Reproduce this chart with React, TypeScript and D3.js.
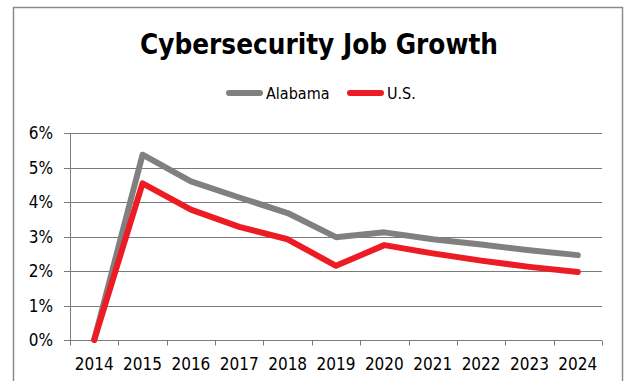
import React from "react";
import * as d3 from "d3";

const years = ["2014","2015","2016","2017","2018","2019","2020","2021","2022","2023","2024"];
const alabama = [0, 5.37, 4.6, 4.13, 3.68, 2.98, 3.12, 2.92, 2.77, 2.6, 2.46];
const us = [0, 4.54, 3.78, 3.28, 2.92, 2.15, 2.75, 2.51, 2.3, 2.12, 1.97];
const yTicks = [0, 1, 2, 3, 4, 5, 6];
const seriesNames = ["Alabama", "U.S."];
const colors = ["#808080", "#ED1C24"];

const W = 625, H = 381;
const font = "'DejaVu Sans Condensed', 'DejaVu Sans', Tahoma, sans-serif";

export default function App() {
  const x = d3.scaleBand().domain(years).range([70, 602]).padding(0);
  const y = d3.scaleLinear().domain([0, 6]).range([340, 133]);
  const cx = (d: string) => (x(d) as number) + x.bandwidth() / 2;
  const line = d3.line<number>().x((_, i) => cx(years[i])).y((v) => y(v));
  const series = [alabama, us];
  const px = (v: number) => Math.round(v) + 0.5;
  const legendX = [226, 347];
  return (
    <svg width={W} height={H} style={{ position: "absolute", left: 0, top: 0, background: "#fff" }}>
      <rect x={13.5} y={7.5} width={609} height={420} fill="#fff" stroke="#8c8c8c" strokeWidth={1.5} />
      <text x={319} y={54} textAnchor="middle" fontFamily={font} fontWeight="bold" fontSize={28} textLength={358} lengthAdjust="spacingAndGlyphs" fill="#000">Cybersecurity Job Growth</text>
      {seriesNames.map((n, i) => (
        <g key={n}>
          <line x1={legendX[i] + 3} x2={legendX[i] + 34} y1={93} y2={93} stroke={colors[i]} strokeWidth={6} strokeLinecap="round" />
          <text x={legendX[i] + 40} y={99} fontFamily={font} fontSize={16} fill="#000">{n}</text>
        </g>
      ))}
      {yTicks.map((t) => (
        <g key={t}>
          <line x1={64} x2={602} y1={px(y(t))} y2={px(y(t))} stroke="#7a7a7a" strokeWidth={1} />
          <text x={53} y={y(t) + 6} textAnchor="end" fontFamily={font} fontSize={17} fill="#000">{t}%</text>
        </g>
      ))}
      <line x1={px(70)} x2={px(70)} y1={px(y(6))} y2={px(y(0))} stroke="#7a7a7a" strokeWidth={1} />
      {[...years.map((d) => x(d) as number), 602].map((v, i) => (
        <line key={i} x1={px(v)} x2={px(v)} y1={px(y(0))} y2={px(y(0)) + 5} stroke="#7a7a7a" strokeWidth={1} />
      ))}
      {years.map((d) => (
        <text key={d} x={cx(d)} y={370} textAnchor="middle" fontFamily={font} fontSize={17} fill="#000">{d}</text>
      ))}
      {series.map((s, i) => (
        <path key={i} d={line(s) as string} fill="none" stroke={colors[i]} strokeWidth={6} strokeLinejoin="round" strokeLinecap="round" />
      ))}
    </svg>
  );
}
